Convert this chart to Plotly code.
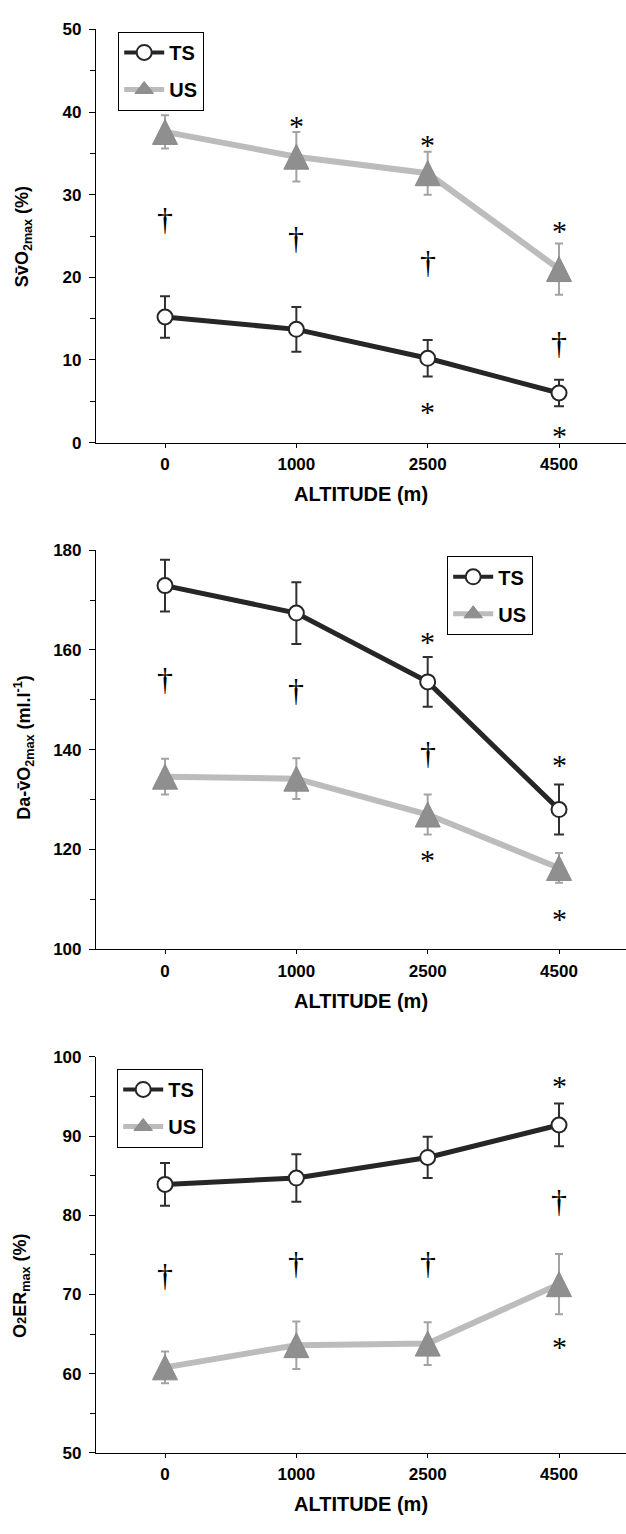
import plotly.graph_objects as go

W, H = 626, 1534

# ---------------- data ----------------
altitudes = ["0", "1000", "2500", "4500"]

sv_ts = [15.2, 13.7, 10.2, 6.0]
sv_ts_err = [2.5, 2.7, 2.2, 1.6]
sv_us = [37.6, 34.6, 32.6, 21.0]
sv_us_err = [2.0, 3.0, 2.6, 3.1]

da_ts = [172.9, 167.4, 153.6, 128.0]
da_ts_err = [5.2, 6.2, 5.0, 5.0]
da_us = [134.6, 134.2, 127.0, 116.3]
da_us_err = [3.6, 4.1, 4.0, 3.0]

o2_ts = [83.9, 84.7, 87.3, 91.4]
o2_ts_err = [2.7, 3.0, 2.6, 2.7]
o2_us = [60.8, 63.6, 63.8, 71.3]
o2_us_err = [2.0, 3.0, 2.7, 3.8]

sv_star_x = ["1000", "2500", "4500", "2500", "4500"]
sv_star_y = [39.3, 37.0, 26.6, 4.7, 1.8]
sv_dag_x = ["0", "1000", "2500", "4500"]
sv_dag_y = [27.0, 24.8, 21.8, 12.0]

da_star_x = ["2500", "4500", "2500", "4500"]
da_star_y = [163.4, 138.6, 119.6, 107.7]
da_dag_x = ["0", "1000", "2500"]
da_dag_y = [154.2, 151.9, 139.3]

o2_star_x = ["4500", "4500"]
o2_star_y = [97.4, 64.4]
o2_dag_x = ["0", "1000", "2500", "4500"]
o2_dag_y = [72.5, 74.0, 74.0, 81.8]

series_names = ["TS", "US"]
x_title = "ALTITUDE (m)"
y_titles = ["Sv\u0304O<sub>2max</sub> (%)",
            "Da-v\u0304O<sub>2max</sub> (ml.l<sup>-1</sup>)",
            "O<span style='font-size:13px'>2</span>ER<sub>max</sub> (%)"]

# ---------------- style ----------------
FONT = "Liberation Sans, Arial, sans-serif"
SERIF = "Liberation Serif, Times New Roman, serif"
TS_LINE = "#262626"
TS_ERR = "#303030"
US_LINE = "#bcbcbc"
US_FILL = "#8f8f8f"
US_ERR = "#a3a3a3"
TRI_SIZE = 25

def py(p):
    return 1 - p / H

def px(p):
    return p / W

def cat_index(label):
    return altitudes.index(label)

panels = [
    dict(ts=sv_ts, tse=sv_ts_err, us=sv_us, use=sv_us_err, rng=[0, 50], dt=10, minor=5,
         top=20.7, bot=439, sx=sv_star_x, sy=sv_star_y, dx=sv_dag_x, dy=sv_dag_y,
         leg=(118, 23), ytit=(23, 231)),
    dict(ts=da_ts, tse=da_ts_err, us=da_us, use=da_us_err, rng=[100, 180], dt=20, minor=10,
         top=548, bot=952, sx=da_star_x, sy=da_star_y, dx=da_dag_x, dy=da_dag_y,
         leg=(447, 554), ytit=(24, 748)),
    dict(ts=o2_ts, tse=o2_ts_err, us=o2_us, use=o2_us_err, rng=[50, 100], dt=10, minor=5,
         top=1061, bot=1462, sx=o2_star_x, sy=o2_star_y, dx=o2_dag_x, dy=o2_dag_y,
         leg=(117, 1073), ytit=(22, 1293)),
]

fig = go.Figure()
annotations = []
layout = dict(
    width=W, height=H, margin=dict(l=0, r=0, t=0, b=0),
    paper_bgcolor="white", plot_bgcolor="white", showlegend=True,
    font=dict(family=FONT, color="black"),
)

for i, p in enumerate(panels):
    n = "" if i == 0 else str(i + 1)
    xa, ya = "x" + n, "y" + n
    legname = "legend" + n

    # US series
    fig.add_trace(go.Scatter(
        x=altitudes, y=p["us"], xaxis=xa, yaxis=ya, mode="lines+markers",
        line=dict(color=US_LINE, width=6), showlegend=False,
        marker=dict(symbol="arrow-down", angle=180, standoff=TRI_SIZE / 2,
                    size=TRI_SIZE, color=US_FILL, line=dict(color="#8a8a8a", width=1)),
        error_y=dict(type="data", array=p["use"], color=US_ERR, thickness=2, width=4),
    ))
    # TS series
    fig.add_trace(go.Scatter(
        x=altitudes, y=p["ts"], xaxis=xa, yaxis=ya, mode="lines+markers",
        line=dict(color=TS_LINE, width=5), showlegend=False,
        marker=dict(symbol="circle", size=15, color="white", line=dict(color=TS_LINE, width=2)),
        error_y=dict(type="data", array=p["tse"], color=TS_ERR, thickness=2, width=5),
    ))
    # legend entries
    fig.add_trace(go.Scatter(
        x=[None], y=[None], xaxis=xa, yaxis=ya, mode="lines+markers", name=series_names[0],
        legend=legname, legendgroup="ts" + n,
        line=dict(color=TS_LINE, width=4),
        marker=dict(symbol="circle", size=15, color="white", line=dict(color=TS_LINE, width=2)),
    ))
    fig.add_trace(go.Scatter(
        x=[None], y=[None], xaxis=xa, yaxis=ya, mode="lines+markers", name=series_names[1],
        legend=legname, legendgroup="us" + n,
        line=dict(color=US_LINE, width=5),
        marker=dict(symbol="triangle-up", size=16, color=US_FILL, line=dict(color="#8a8a8a", width=1)),
    ))

    dom_y = [py(p["bot"]), py(p["top"])]
    layout["xaxis" + n] = dict(
        domain=[px(96), 1], anchor=ya, type="category", range=[-0.5255, 3.51],
        showline=True, linecolor="black", linewidth=1.2, ticks="outside", ticklen=4,
        tickcolor="black", tickfont=dict(family=FONT, size=17, weight="bold"),
        ticklabelstandoff=2,
        showgrid=False, zeroline=False, fixedrange=True,
    )
    layout["yaxis" + n] = dict(
        domain=dom_y, anchor=xa, range=p["rng"], dtick=p["dt"], tick0=p["rng"][0],
        showline=True, linecolor="black", linewidth=1.2, ticks="outside", ticklen=6,
        tickcolor="black", tickfont=dict(family=FONT, size=17, weight="bold"),
        ticklabelstandoff=4,
        minor=dict(dtick=p["minor"], ticks="outside", ticklen=5, tickcolor="black", showgrid=False),
        showgrid=False, zeroline=False, fixedrange=True,
    )
    layout[legname] = dict(
        x=px(p["leg"][0]), y=py(p["leg"][1]), xanchor="left", yanchor="top",
        xref="paper", yref="paper",
        bordercolor="black", borderwidth=1.2, bgcolor="white",
        font=dict(family=FONT, size=20, weight="bold", color="black"),
        tracegroupgap=8, itemwidth=40,
    )

    # axis titles
    annotations.append(dict(
        text=x_title, xref="paper", yref="paper", x=px(361), y=py(p["bot"] + 52),
        showarrow=False, font=dict(family=FONT, size=20, weight="bold", color="black"),
        xanchor="center", yanchor="middle",
    ))
    annotations.append(dict(
        text=y_titles[i], xref="paper", yref="paper", x=px(p["ytit"][0]), y=py(p["ytit"][1]),
        showarrow=False, textangle=-90, font=dict(family=FONT, size=18, weight="bold", color="black"),
        xanchor="center", yanchor="middle",
    ))
    # significance markers
    for sx, sy in zip(p["sx"], p["sy"]):
        annotations.append(dict(
            text="*", xref=xa, yref=ya, x=cat_index(sx), y=sy, showarrow=False,
            font=dict(family=SERIF, size=30, color="black"), yshift=-8,
        ))
    for dx, dy in zip(p["dx"], p["dy"]):
        annotations.append(dict(
            text="\u2020", xref=xa, yref=ya, x=cat_index(dx), y=dy, showarrow=False,
            font=dict(family=SERIF, size=32, color="black"),
        ))

layout["annotations"] = annotations
fig.update_layout(**layout)
fig.write_html(
    "out.html",
    config={"displayModeBar": False, "staticPlot": False},
    post_script="document.body.style.margin='0';document.body.style.padding='0';"
                "document.body.style.overflow='hidden';",
)
